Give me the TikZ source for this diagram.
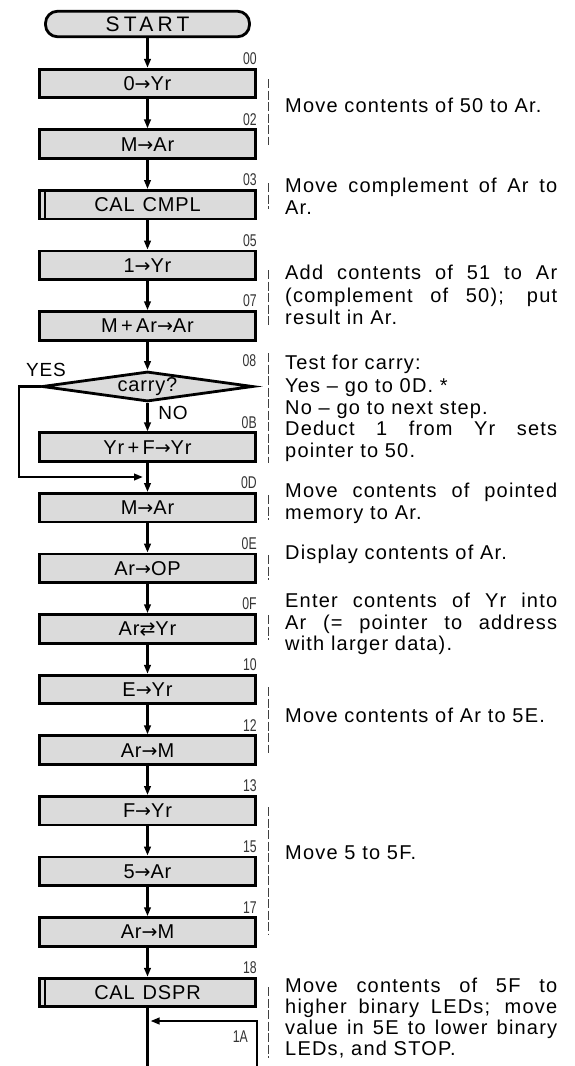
\documentclass[tikz,border=0pt]{standalone}
\usepackage{fontspec}
\setmainfont{Liberation Sans}
\newfontfamily\descfont[LetterSpace=6]{Liberation Sans}
\newfontfamily\boxfnt[LetterSpace=4]{Liberation Sans}
\newfontfamily\startfnt[LetterSpace=20]{Liberation Sans}
\newfontfamily\addrfnt[FakeStretch=0.72]{Liberation Sans}
\newfontfamily\symfnt{DejaVu Sans}
\usetikzlibrary{shapes.geometric,arrows.meta}
\definecolor{boxgray}{gray}{0.86}
\newcommand{\toarr}{{\symfnt\fontsize{19}{19}\selectfont →}}
\newcommand{\xcharr}{{\symfnt\fontsize{19}{19}\selectfont ⇄}}
\newcommand{\jl}[1]{\makebox[272pt][s]{#1}}
\begin{document}
\begin{tikzpicture}[x=1pt,y=-1pt,
  proc/.style={draw, line width=2.8pt, fill=boxgray, minimum width=216pt, minimum height=28.5pt,
    inner sep=0pt, font=\boxfnt\fontsize{20}{20}\selectfont, text height=14pt, text depth=0pt},
  term/.style={draw, line width=2.8pt, fill=boxgray, rounded corners=12pt, minimum width=204pt,
    minimum height=25.5pt, inner sep=0pt, font=\startfnt\fontsize{21}{21}\selectfont, text height=15pt, text depth=0pt},
  dia/.style={diamond, draw, line width=2.8pt, fill=boxgray, aspect=6.5, minimum width=211pt,
    minimum height=30pt, inner sep=0pt, font=\boxfnt\fontsize{20}{20}\selectfont},
  arr/.style={draw, line width=2.5pt, -{Triangle[length=9pt,width=6.5pt]}},
  plain/.style={draw, line width=2.5pt},
  stripe/.style={draw, line width=2pt},
  addr/.style={font=\addrfnt\fontsize{17}{17}\selectfont, text=black!80, inner sep=0pt, anchor=south east},
  lbl/.style={font=\boxfnt\fontsize{19}{19}\selectfont, inner sep=0pt},
  desc/.style={anchor=mid west, inner sep=0pt, font=\descfont\fontsize{20}{21.7}\selectfont},
  brk/.style={draw=black!75, line width=0.7pt, dash pattern=on 9pt off 2.5pt}]
\useasboundingbox (0,0) rectangle (574,1066);

% flowchart nodes
\node[term] (start) at (147.5,24) {START\hspace{-4pt}};
\node[proc] (b00) at (147.5,83.5) {0\toarr Yr};
\node[proc] (b02) at (147.5,144.1) {M\toarr Ar};
\node[proc] (b03) at (147.5,204.7) {CAL\hspace{8pt}CMPL};
\node[proc] (b05) at (147.5,265.3) {1\toarr Yr};
\node[proc] (b07) at (147.5,325.9) {M\,+\,Ar\toarr Ar};
\node[dia]  (dia) at (147.5,386.5) {carry?};
\node[proc] (b0B) at (147.5,447.1) {Yr\,+\,F\toarr Yr};
\node[proc] (b0D) at (147.5,507.7) {M\toarr Ar};
\node[proc] (b0E) at (147.5,568.3) {Ar\toarr OP};
\node[proc] (b0F) at (147.5,628.9) {Ar\xcharr Yr};
\node[proc] (b10) at (147.5,689.5) {E\toarr Yr};
\node[proc] (b12) at (147.5,750.1) {Ar\toarr M};
\node[proc] (b13) at (147.5,810.7) {F\toarr Yr};
\node[proc] (b15) at (147.5,871.3) {5\toarr Ar};
\node[proc] (b17) at (147.5,931.9) {Ar\toarr M};
\node[proc] (b18) at (147.5,992.5) {CAL\hspace{8pt}DSPR};

% predefined-process stripes
\draw[stripe] ([xshift=7pt]b03.north west) -- ([xshift=7pt]b03.south west);
\draw[stripe] ([xshift=7pt]b18.north west) -- ([xshift=7pt]b18.south west);

% address labels
\node[addr] (a00) at ([yshift=3pt]b00.north east) {00};
\node[addr] (a02) at ([yshift=3pt]b02.north east) {02};
\node[addr] (a03) at ([yshift=3pt]b03.north east) {03};
\node[addr] (a05) at ([yshift=3pt]b05.north east) {05};
\node[addr] (a07) at ([yshift=3pt]b07.north east) {07};
\node[addr] (a08) at ([xshift=2pt,yshift=20pt]dia.east) {08};
\node[addr] (a0B) at ([yshift=3pt]b0B.north east) {0B};
\node[addr] (a0D) at ([yshift=3pt]b0D.north east) {0D};
\node[addr] (a0E) at ([yshift=3pt]b0E.north east) {0E};
\node[addr] (a0F) at ([yshift=3pt]b0F.north east) {0F};
\node[addr] (a10) at ([yshift=3pt]b10.north east) {10};
\node[addr] (a12) at ([yshift=3pt]b12.north east) {12};
\node[addr] (a13) at ([yshift=3pt]b13.north east) {13};
\node[addr] (a15) at ([yshift=3pt]b15.north east) {15};
\node[addr] (a17) at ([yshift=3pt]b17.north east) {17};
\node[addr] (a18) at ([yshift=3pt]b18.north east) {18};
\node[addr, anchor=east] (a1A) at (248,1037) {1A};

% YES / NO
\node[lbl] (yes) at (46,370) {YES};
\node[lbl] (no) at (173,413) {NO};

% connectors
\draw[arr] (start) -- (b00);
\draw[arr] (b00) -- (b02);
\draw[arr] (b02) -- (b03);
\draw[arr] (b03) -- (b05);
\draw[arr] (b05) -- (b07);
\draw[arr] (b07) -- (dia);
\draw[arr] (dia) -- (b0B);
\draw[arr] (b0B) -- (b0D);
\draw[arr] (b0D) -- (b0E);
\draw[arr] (b0E) -- (b0F);
\draw[arr] (b0F) -- (b10);
\draw[arr] (b10) -- (b12);
\draw[arr] (b12) -- (b13);
\draw[arr] (b13) -- (b15);
\draw[arr] (b15) -- (b17);
\draw[arr] (b17) -- (b18);

\coordinate (yl) at (19,477);
\coordinate (yesend) at (143,477);
\draw[arr] (dia.west) -| (yl) -- (yesend);

\coordinate (bend) at (147.5,1068);
\coordinate (rbot) at (257,1068);
\coordinate (rtop) at (257,1021);
\coordinate (jn) at (150.5,1021);
\draw[plain] (b18) -- (bend);
\draw[arr] (rbot) -- (rtop) -- (jn);

% dashed brackets
\draw[brk] (268,79) -- (268,145);
\draw[brk] (268,183) -- (268,209);
\draw[brk] (268,270) -- (268,327);
\draw[brk] (268,353) -- (268,463);
\draw[brk] (268,495) -- (268,520);
\draw[brk] (268,555) -- (268,580);
\draw[brk] (268,615) -- (268,640);
\draw[brk] (268,687) -- (268,753);
\draw[brk] (268,807) -- (268,935);
\draw[brk] (268,987) -- (268,1058);

% descriptions
\node[desc] (t01) at (285,110) {Move contents of 50 to Ar.};
\node[desc] (t02) at (285,190) {\jl{Move complement of Ar to}};
\node[desc] (t03) at (285,212) {Ar.};
\node[desc] (t04) at (285,277) {\jl{Add contents of 51 to Ar}};
\node[desc] (t05) at (285,299.5) {\jl{(complement of 50); put}};
\node[desc] (t06) at (285,322) {result in Ar.};
\node[desc] (t07) at (285,367) {Test for carry:};
\node[desc] (t08) at (285,389.5) {Yes – go to 0D. *};
\node[desc] (t09) at (285,411.5) {No – go to next step.};
\node[desc] (t10) at (285,433) {\jl{Deduct 1 from Yr sets}};
\node[desc] (t11) at (285,455) {pointer to 50.};
\node[desc] (t12) at (285,495) {\jl{Move contents of pointed}};
\node[desc] (t13) at (285,517) {memory to Ar.};
\node[desc] (t14) at (285,557) {Display contents of Ar.};
\node[desc] (t15) at (285,605) {\jl{Enter contents of Yr into}};
\node[desc] (t16) at (285,627) {\jl{Ar (= pointer to address}};
\node[desc] (t17) at (285,648) {with larger data).};
\node[desc] (t18) at (285,720) {Move contents of Ar to 5E.};
\node[desc] (t19) at (285,857) {Move 5 to 5F.};
\node[desc] (t20) at (285,990) {\jl{Move contents of 5F to}};
\node[desc] (t21) at (285,1011) {\jl{higher binary LEDs; move}};
\node[desc] (t22) at (285,1032) {\jl{value in 5E to lower binary}};
\node[desc] (t23) at (285,1053) {LEDs, and STOP.};
\end{tikzpicture}
\end{document}
